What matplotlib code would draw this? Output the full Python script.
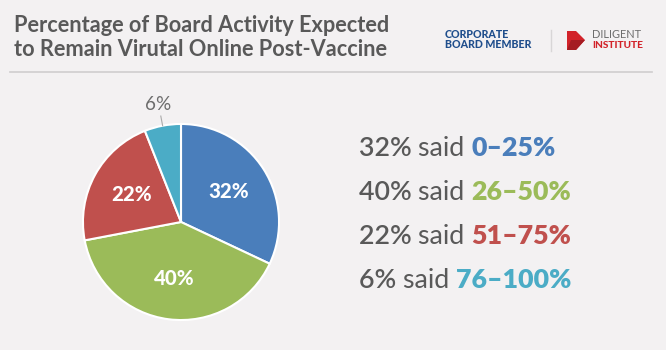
import numpy as np
import matplotlib.pyplot as plt
from matplotlib.patches import Polygon

# pie data
shares = [32, 40, 22, 6]
ranges = ["0\u201325%", "26\u201350%", "51\u201375%", "76\u2013100%"]
colors = ["#4a7ebb", "#9bbb59", "#c0504d", "#4bacc6"]

title_lines = ["Percentage of Board Activity Expected",
               "to Remain Virutal Online Post-Vaccine"]

BG = "#f3f1f2"
GREY = "#595959"
W, H = 666, 350

plt.rcParams['font.family'] = ['Lato', 'DejaVu Sans']

fig = plt.figure(figsize=(W / 100, H / 100), dpi=100, facecolor=BG)


def fx(px):
    return px / W


def fy(py):
    return 1 - py / H


def fit(t, target_px):
    # grow or shrink a text so its width matches the reference
    fig.canvas.draw()
    w = t.get_window_extent().width
    t.set_fontsize(t.get_fontsize() * target_px / w)


# title
t1 = fig.text(fx(14), fy(25), title_lines[0], fontsize=14, fontweight='bold',
              color=GREY, va='center', ha='left')
fit(t1, 377)
t2 = fig.text(fx(14), fy(50), title_lines[1], fontsize=t1.get_fontsize(),
              fontweight='bold', color=GREY, va='center', ha='left')
fig.add_artist(plt.Line2D([fx(10), fx(652)], [fy(72), fy(72)], color="#cfcdce",
                          lw=1.2, transform=fig.transFigure))

# logos
c1 = fig.text(fx(445), fy(35), "CORPORATE", fontsize=7.5, fontweight='black',
              color="#1f4e8c", va='center', ha='left')
c2 = fig.text(fx(445), fy(45), "BOARD MEMBER", fontsize=7.5, fontweight='black',
              color="#1f4e8c", va='center', ha='left')
fit(c2, 87)
c1.set_fontsize(c2.get_fontsize())
fig.add_artist(plt.Line2D([fx(551), fx(551)], [fy(30), fy(51)], color="#d8d6d7",
                          lw=1, transform=fig.transFigure))
fig.add_artist(Polygon([[fx(567), fy(31)], [fx(576), fy(31)], [fx(585), fy(40)],
                        [fx(576), fy(50)], [fx(567), fy(50)]], closed=True,
                       facecolor="#d2232a", edgecolor='none',
                       transform=fig.transFigure))
fig.add_artist(Polygon([[fx(571), fy(40)], [fx(585), fy(40)], [fx(576), fy(50)],
                        [fx(567), fy(50)]], closed=True, facecolor="#a51c22",
                       edgecolor='none', transform=fig.transFigure))
d1 = fig.text(fx(592), fy(35), "DILIGENT", fontsize=8, color="#6d6d6d",
              va='center', ha='left')
fit(d1, 49)
d2 = fig.text(fx(592), fy(45), "INSTITUTE", fontsize=8, fontweight='black',
              color="#d2232a", va='center', ha='left')
fit(d2, 51)

# pie
ax = fig.add_axes([fx(81), fy(322), fx(200), 200 / H])
ax.set_facecolor(BG)
wedges, _ = ax.pie(shares, colors=colors, startangle=90, counterclock=False,
                   radius=1, wedgeprops=dict(edgecolor='white', linewidth=1.5))
ax.set_xlim(-1.02, 1.02)
ax.set_ylim(-1.02, 1.02)
ax.set_aspect('equal')
ax.axis('off')

pie_fs = None
for w, val in zip(wedges, shares):
    mid = np.deg2rad((w.theta1 + w.theta2) / 2)
    if val >= 10:
        t = ax.text(0.58 * np.cos(mid), 0.58 * np.sin(mid), f"{val}%",
                    color='white', fontsize=pie_fs or 13, fontweight='black',
                    ha='center', va='center')
        if pie_fs is None:
            fit(t, 40)
            pie_fs = t.get_fontsize()
    else:
        ax.plot([1.0 * np.cos(mid), 1.1 * np.cos(mid)],
                [1.0 * np.sin(mid), 1.1 * np.sin(mid)], color="#aaaaaa", lw=0.8,
                clip_on=False)
        t = ax.text(1.22 * np.cos(mid), 1.22 * np.sin(mid), f"{val}%",
                    color="#6d6d6d", fontsize=12, ha='center', va='center')
        fit(t, 26)


def draw_row(x0, ry, parts, fs):
    x = x0
    made = []
    for txt, wt, c in parts:
        t = fig.text(x, fy(ry), txt, fontsize=fs, fontweight=wt, color=c,
                     va='center', ha='left')
        fig.canvas.draw()
        x = t.get_window_extent().x1 / fig.bbox.width
        made.append(t)
    return made, x


# legend text, sized so the first row spans the same width as the reference
rows_y = [148, 192, 236, 280]
fs = 17
for i, (val, rng, col, ry) in enumerate(zip(shares, ranges, colors, rows_y)):
    parts = [(f"{val}% ", 'semibold', GREY), ("said ", 'normal', GREY),
             (rng, 'heavy', col)]
    made, end = draw_row(fx(359), ry, parts, fs)
    if i == 0:
        fs = fs * (556 - 359) / (end * W - 359)
        for t in made:
            t.remove()
        draw_row(fx(359), ry, parts, fs)

fig.savefig("out.png", dpi=100, facecolor=BG)
